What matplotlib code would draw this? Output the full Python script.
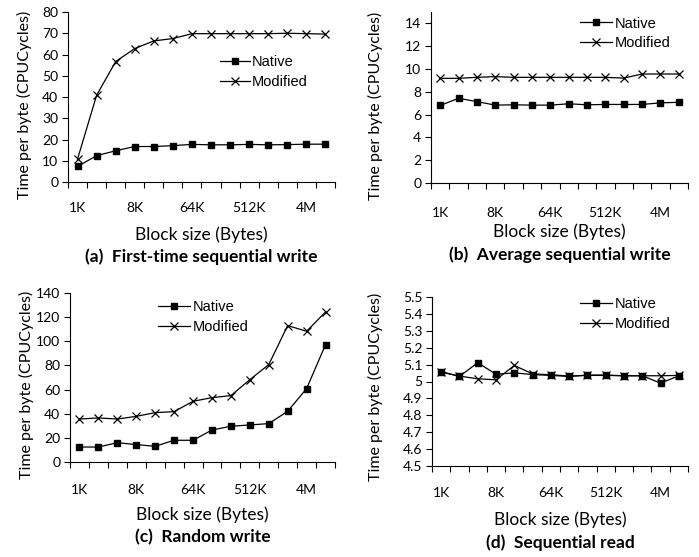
import numpy as np
import matplotlib
matplotlib.use("Agg")
import matplotlib.pyplot as plt

sizes = ["1K", "2K", "4K", "8K", "16K", "32K", "64K", "128K", "256K", "512K", "1M", "2M", "4M", "8M"]

# (a) first-time sequential write
a_native = [7.3, 12.4, 14.7, 16.7, 16.7, 17.1, 17.7, 17.5, 17.5, 17.7, 17.5, 17.6, 17.8, 17.8]
a_modified = [10.8, 40.8, 56.7, 62.8, 66.4, 67.5, 69.8, 69.8, 69.8, 69.8, 69.8, 70.0, 69.8, 69.6]
# (b) average sequential write
b_native = [6.80, 7.43, 7.14, 6.83, 6.86, 6.83, 6.83, 6.95, 6.86, 6.89, 6.89, 6.89, 7.03, 7.08]
b_modified = [9.18, 9.18, 9.27, 9.33, 9.27, 9.27, 9.27, 9.27, 9.27, 9.27, 9.20, 9.56, 9.56, 9.56]
# (c) random write
c_native = [12.4, 12.4, 16.0, 14.4, 13.0, 18.0, 18.0, 26.5, 29.6, 30.7, 31.8, 42.0, 60.8, 97.2]
c_modified = [35.6, 36.5, 35.6, 37.8, 40.9, 41.7, 50.3, 53.3, 55.0, 68.2, 80.7, 113.0, 108.3, 124.3]
# (d) sequential read
d_native = [5.059, 5.030, 5.111, 5.043, 5.051, 5.041, 5.036, 5.030, 5.038, 5.038, 5.034, 5.034, 4.990, 5.034]
d_modified = [5.055, 5.032, 5.016, 5.010, 5.095, 5.045, 5.040, 5.032, 5.036, 5.036, 5.034, 5.034, 5.034, 5.036]

panels = [
    ("(a)  First-time sequential write", a_native, a_modified, (0, 80), 10),
    ("(b)  Average sequential write", b_native, b_modified, (0, 15), 2),
    ("(c)  Random write", c_native, c_modified, (0, 140), 20),
    ("(d)  Sequential read", d_native, d_modified, (4.5, 5.5), 0.1),
]

# layout, in pixels from the top-left corner
boxes = [(68, 335, 12, 182), (431, 688, 12, 183), (70, 335, 293, 462), (432, 688, 297, 466)]
tick_y = [208, 213, 490, 493]
xlabel_y = [235, 232, 515, 520]
title_y = [257, 255, 537, 543]
ylabel_xy = [(24, 105), (375, 106), (26, 385), (375, 387)]
legend_pos = [(220, 72, 2.05), (580, 33.5, 2.2), (158, 317, 2.2), (580, 314, 2.2)]

W, H = 699, 557
calib = "Lato"
arial = "Liberation Sans"

fig = plt.figure(figsize=(W / 100, H / 100), dpi=100)
x = np.arange(len(sizes))

for i, (title, nat, mod, ylim, step) in enumerate(panels):
    l, r, t, b = boxes[i]
    ax = fig.add_axes([l / W, 1 - b / H, (r - l) / W, (b - t) / H])
    ax.plot(x, nat, color="black", lw=0.9, marker="s", ms=5, label="Native")
    ax.plot(x, mod, color="black", lw=0.9, marker="x", ms=6, mew=0.9, label="Modified")
    ax.set_xlim(-0.5, len(sizes) - 0.5)
    ax.set_ylim(*ylim)
    yt = np.round(np.arange(ylim[0], ylim[1] + step / 2, step), 3)
    ax.set_yticks(yt)
    ax.set_yticklabels(["{:g}".format(v) for v in yt], fontfamily=calib, fontsize=10)
    ax.set_xticks(x[::3])
    ax.set_xticklabels(sizes[::3], fontfamily=calib, fontsize=10, va="center")
    ax.set_xticks(np.arange(-0.5, len(sizes), 1), minor=True)
    ax.tick_params(axis="x", which="major", length=0, pad=(tick_y[i] - b) * 0.72)
    ax.tick_params(axis="x", which="minor", length=4, width=0.8, direction="out")
    ax.tick_params(axis="y", length=4, width=0.8, direction="out", pad=3)
    for s in ["top", "right"]:
        ax.spines[s].set_visible(False)
    for s in ["left", "bottom"]:
        ax.spines[s].set_linewidth(0.8)

    lx, ly, hl = legend_pos[i]
    ax.legend(loc="center left", bbox_to_anchor=(lx / W, 1 - ly / H), bbox_transform=fig.transFigure,
              frameon=False, prop={"family": arial, "size": 10.5}, handlelength=hl, handletextpad=0.15,
              labelspacing=0.4, borderaxespad=0, borderpad=0)

    fig.text((l + r) / 2 / W, 1 - xlabel_y[i] / H, "Block size (Bytes)", ha="center", va="center",
             fontfamily=calib, fontsize=12.5)
    fig.text((l + r) / 2 / W, 1 - title_y[i] / H, title, ha="center", va="center",
             fontfamily=calib, fontweight="bold", fontsize=12.5)
    yx, yy = ylabel_xy[i]
    fig.text(yx / W, 1 - yy / H, "Time per byte (CPUCycles)", ha="center", va="center", rotation=90,
             fontfamily=calib, fontsize=11.5)

fig.savefig("out.png", dpi=100)
